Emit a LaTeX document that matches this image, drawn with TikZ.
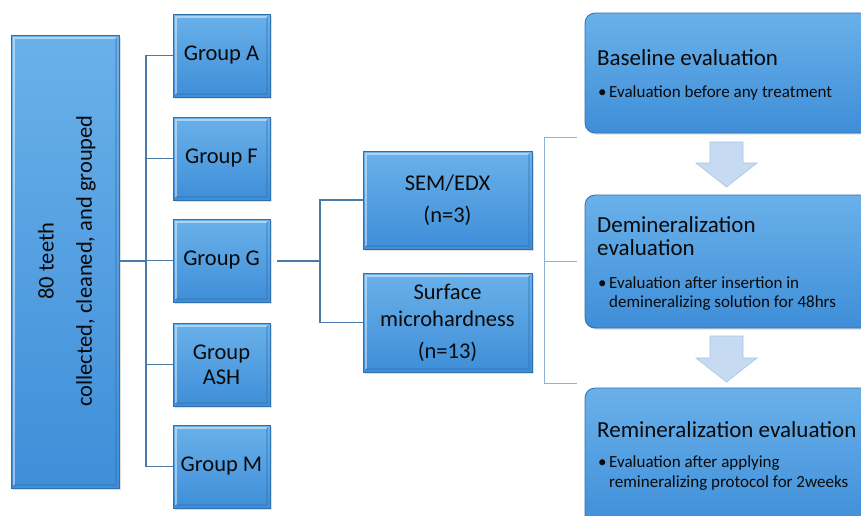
\documentclass[tikz,border=0pt]{standalone}
\usepackage{fontspec}
\setmainfont{Carlito}
\usetikzlibrary{shadows,calc}
\definecolor{boxtop}{HTML}{6AB1EA}
\definecolor{boxbot}{HTML}{3E8ED8}
\definecolor{boxedge}{HTML}{2F6FAE}
\definecolor{txt}{HTML}{0A0A0A}
\definecolor{linedark}{HTML}{4A7AA6}
\definecolor{linelight}{HTML}{8FB1D2}
\definecolor{arrfill}{HTML}{C6DBF2}
\definecolor{arredge}{HTML}{A8C3E3}
\tikzset{
  boxbase/.style={rectangle, draw=boxedge, line width=0.8pt,
    top color=boxtop, bottom color=boxbot, inner sep=0pt,
    drop shadow={opacity=0.25, shadow xshift=1.5pt, shadow yshift=-1.5pt}},
  bevel/.style={path picture={
    \draw[white, opacity=0.45, line width=1.4pt]
      ($(path picture bounding box.south west)+(3,-3)$) --
      ($(path picture bounding box.north west)+(3,3)$) --
      ($(path picture bounding box.north east)+(-3,3)$);
    \draw[boxedge, opacity=0.35, line width=1.4pt]
      ($(path picture bounding box.north east)+(-3,3)$) --
      ($(path picture bounding box.south east)+(-3,-3)$) --
      ($(path picture bounding box.south west)+(3,-3)$);}},
  gbox/.style={boxbase, bevel, minimum width=97pt, minimum height=83pt,
    align=center, text=txt, font=\fontsize{22.5}{25}\selectfont},
  mbox/.style={boxbase, bevel, minimum width=169pt, minimum height=98pt,
    align=center, text=txt, font=\fontsize{22.5}{27}\selectfont},
  rbox/.style={boxbase, rounded corners=10pt, minimum width=300pt},
  ttl/.style={inner sep=0pt, anchor=base west, text=txt, font=\fontsize{23}{24}\selectfont},
  btxt/.style={inner sep=0pt, anchor=base west, text=txt, font=\fontsize{17}{20}\selectfont},
  bigtxt/.style={inner sep=0pt, rotate=90, text=txt, font=\fontsize{22.5}{25}\selectfont},
  darkline/.style={draw=linedark, line width=1.1pt},
  lightline/.style={draw=linelight, line width=1pt},
  downarrow/.style={fill=arrfill, draw=arredge, line width=0.6pt}
}
\begin{document}
\begin{tikzpicture}[x=1pt,y=-1pt]
\useasboundingbox (0,0) rectangle (861,515);
\clip (0,0) rectangle (861,515);

% left big box
\node[boxbase, bevel, minimum width=108pt, minimum height=453pt] (big) at (65,261.5) {};
\node[bigtxt] (bigA) at (46,261) {80 teeth};
\node[bigtxt] (bigB) at (86,261) {collected, cleaned, and grouped};

% groups
\node[gbox] (ga) at (221.5,55.5) {Group A};
\node[gbox] (gf) at (221.5,158.5) {Group F};
\node[gbox] (gg) at (221.5,260.5) {Group G};
\node[gbox] (gash) at (221.5,364.5) {Group\\ASH};
\node[gbox] (gm) at (221.5,466.5) {Group M};

% tree connectors
\coordinate (j) at (146,261);
\draw[darkline] (big.east |- j) -- (j);
\draw[darkline] (ga.west) -| (j);
\draw[darkline] (gm.west) -| (j);
\draw[darkline] (gf.west) -- (gf.west -| j);
\draw[darkline] (gash.west) -- (gash.west -| j);
\draw[darkline] (gg.west) -- (gg.west -| j);

% methods
\node[mbox] (sem) at (447.5,200) {SEM/EDX\\[5pt](n=3)};
\node[mbox, minimum height=99pt] (surf) at (447.5,322.5) {Surface\\microhardness\\[5pt](n=13)};
\coordinate (k) at (320,261);
\coordinate (gge) at ($(gg.east |- k)+(7,0)$);
\draw[darkline] (gge) -- (k);
\draw[darkline] (sem.west) -| (k);
\draw[darkline] (surf.west) -| (k);

% bracket
\coordinate (bt) at (577,137);
\coordinate (bm) at (577,261);
\coordinate (bb) at (577,383);
\coordinate (bx) at (544,261);
\draw[lightline] (bt) -- (bt -| bx) -- (bb -| bx) -- (bb);
\draw[lightline] (bx) -- (bm);

% right boxes
\node[rbox, minimum height=120pt] (base) at (735,73) {};
\node[rbox, minimum height=133pt] (dem) at (735,261.5) {};
\node[rbox, minimum height=140pt] (rem) at (735,458) {};

\node[ttl] (baseT) at (597,65) {Baseline evaluation};
\node[btxt] (baseB) at (598,97) {\textbullet};
\node[btxt] (baseL) at (609,97) {Evaluation before any treatment};

\node[ttl] (demT1) at (597,232) {Demineralization};
\node[ttl] (demT2) at (597,255.5) {evaluation};
\node[btxt] (demB) at (598,288) {\textbullet};
\node[btxt] (demL1) at (609,288) {Evaluation after insertion in};
\node[btxt] (demL2) at (609,307.5) {demineralizing solution for 48hrs};

\node[ttl] (remT) at (597,437) {Remineralization evaluation};
\node[btxt] (remB) at (598,467) {\textbullet};
\node[btxt] (remL1) at (609,467) {Evaluation after applying};
\node[btxt] (remL2) at (609,487) {remineralizing protocol for 2weeks};

% down arrows
\draw[downarrow] (710,142) -- (743,142) -- (743,163) -- (757,163) -- (726.5,187)
  -- (696,163) -- (710,163) -- cycle;
\draw[downarrow] (710,336) -- (743,336) -- (743,358) -- (757,358) -- (726.5,382)
  -- (696,358) -- (710,358) -- cycle;
\end{tikzpicture}
\end{document}
